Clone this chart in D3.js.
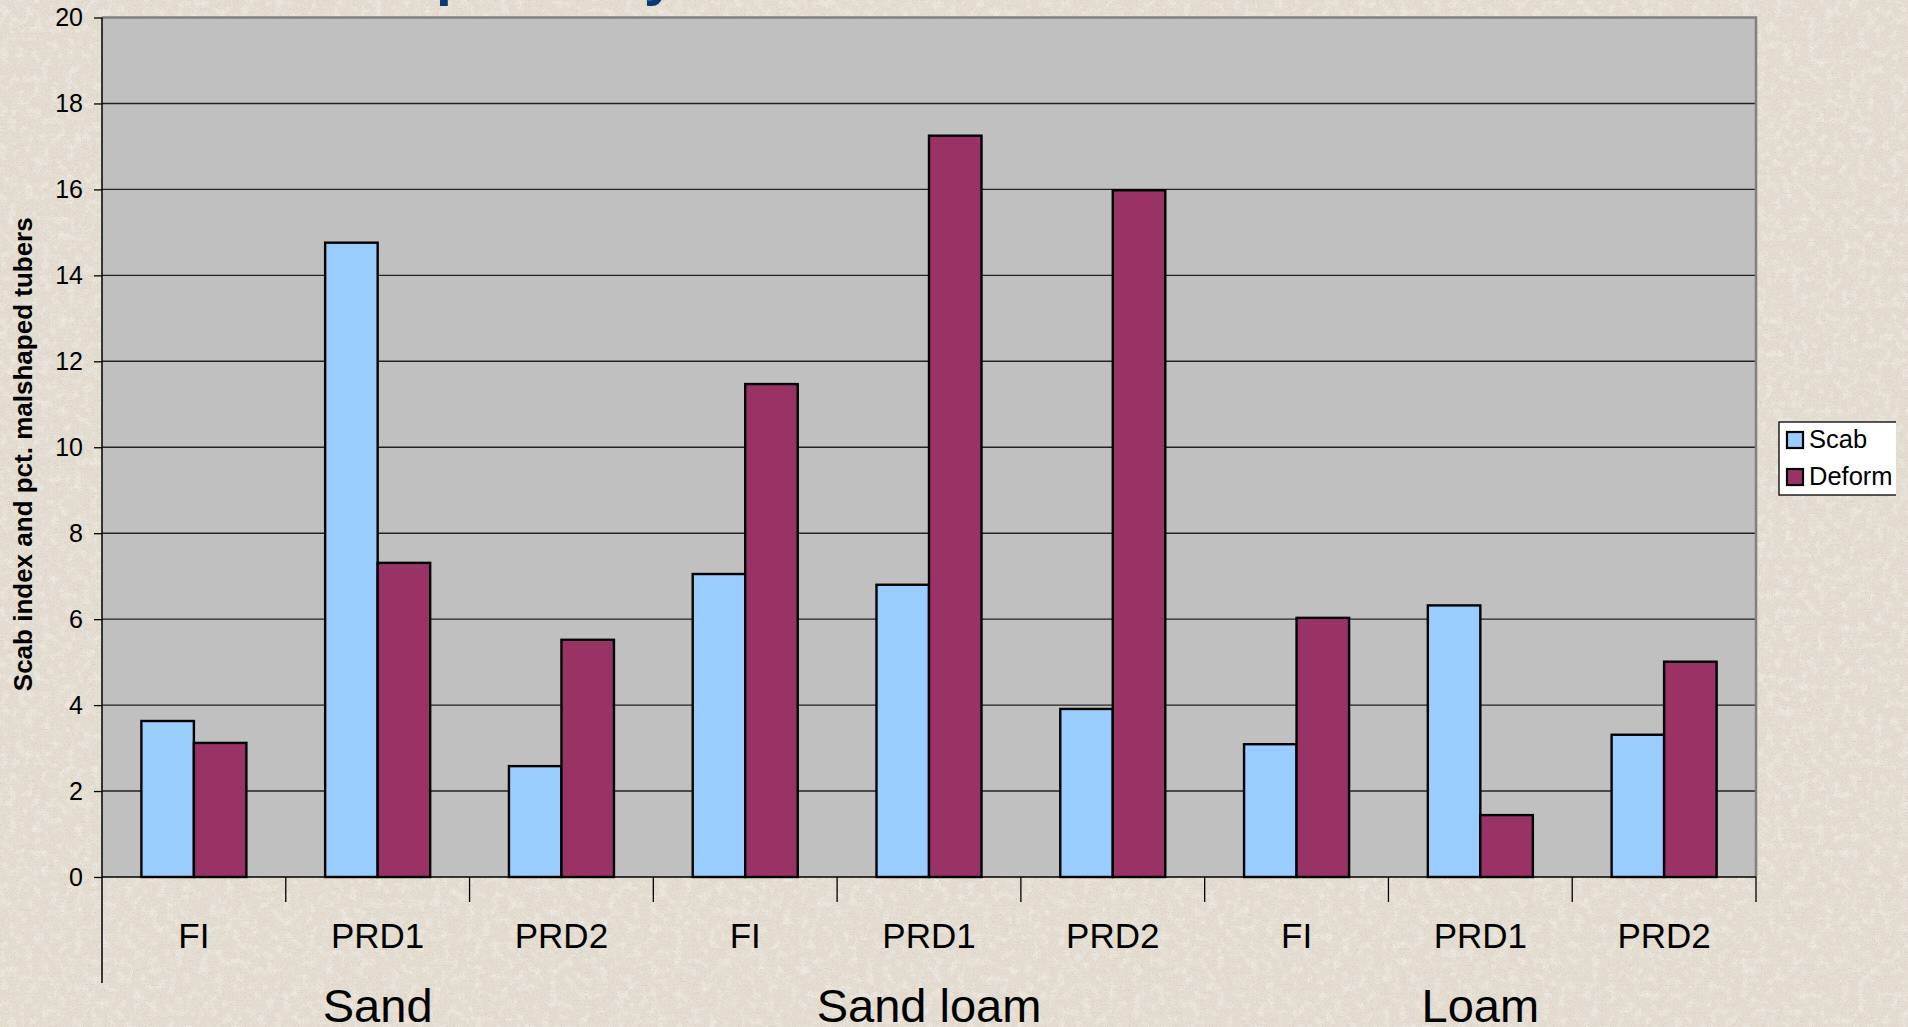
<!DOCTYPE html>
<html>
<head>
<meta charset="utf-8">
<script src="https://cdn.jsdelivr.net/npm/d3@7/dist/d3.min.js"></script>
<style>
  html, body { margin: 0; padding: 0; background: #e4ddd0; overflow: hidden; }
  svg { display: block; font-family: "Liberation Sans", Arial, sans-serif; }
</style>
</head>
<body>
<svg id="chart" width="1908" height="1027"></svg>
<script>
// Soil groups and irrigation treatments (two-level category axis)
const groups = ["Sand", "Sand loam", "Loam"];
const treatments = ["FI", "PRD1", "PRD2"];
const seriesNames = ["Scab", "Deform"];

// Values per category, in group order (Sand FI, Sand PRD1, ... Loam PRD2)
const scabValues   = [3.63, 14.76, 2.58, 7.05, 6.80, 3.91, 3.09, 6.32, 3.31];
const deformValues = [3.12, 7.31, 5.52, 11.47, 17.25, 15.98, 6.03, 1.44, 5.01];

const yTicks = [0, 2, 4, 6, 8, 10, 12, 14, 16, 18, 20];
const yTitle = "Scab index and pct. malshaped tubers";

const colors = { Scab: "#99ccff", Deform: "#993366" };

// Build the category table
const categories = [];
groups.forEach(g => treatments.forEach(t => categories.push({ group: g, treatment: t, key: g + "|" + t })));
const rows = categories.map((c, i) => ({ ...c, Scab: scabValues[i], Deform: deformValues[i] }));

const W = 1908, H = 1027;
const plot = { left: 102, right: 1756, top: 17.5, bottom: 877 };

const svg = d3.select("#chart");
const defs = svg.append("defs");

// Fine speckled stone-like slide background
const grain = defs.append("filter").attr("id", "grain").attr("x", 0).attr("y", 0).attr("width", 1).attr("height", 1);
grain.append("feTurbulence").attr("type", "fractalNoise").attr("baseFrequency", 0.75).attr("numOctaves", 3).attr("seed", 7).attr("result", "n1");
grain.append("feColorMatrix").attr("in", "n1").attr("type", "matrix")
  .attr("values", "0 0 0 0 0.64  0 0 0 0 0.60  0 0 0 0 0.54  -3.4 0 0 0 1.6").attr("result", "dark");
grain.append("feTurbulence").attr("type", "fractalNoise").attr("baseFrequency", 0.12).attr("numOctaves", 2).attr("seed", 3).attr("result", "n2");
grain.append("feColorMatrix").attr("in", "n2").attr("type", "matrix")
  .attr("values", "0 0 0 0 0.95  0 0 0 0 0.93  0 0 0 0 0.90  1.2 0 0 0 -0.55").attr("result", "light");
grain.append("feMerge").selectAll("feMergeNode").data(["SourceGraphic", "light", "dark"]).enter()
  .append("feMergeNode").attr("in", d => d);

svg.append("rect").attr("width", W).attr("height", H).attr("fill", "#e4ddd0").attr("filter", "url(#grain)");

// Fragments of the slide title above the chart
const title = svg.append("g").attr("fill", "#0b3a72").attr("font-weight", "bold").attr("font-size", 57);
title.append("text").attr("x", 436).attr("y", -6).text("p");
title.append("text").attr("x", 644).attr("y", -6).text("y");

// Chart object is cropped at its right edge
defs.append("clipPath").attr("id", "chartClip").append("rect").attr("x", 0).attr("y", 0).attr("width", 1896).attr("height", H);
const chart = svg.append("g").attr("clip-path", "url(#chartClip)");

// Scales
const x0 = d3.scaleBand().domain(categories.map(c => c.key)).range([plot.left, plot.right]).padding(0);
const x1 = d3.scaleBand().domain(seriesNames).range([0, x0.bandwidth()]).paddingInner(0).paddingOuter(0.75);
const y = d3.scaleLinear().domain([0, 20]).range([plot.bottom, plot.top]);

// Plot area
chart.append("rect")
  .attr("x", plot.left).attr("y", plot.top)
  .attr("width", plot.right - plot.left).attr("height", plot.bottom - plot.top)
  .attr("fill", "#c0c0c0");

// Gridlines
chart.append("g").selectAll("line").data(yTicks.filter(t => t > 0 && t < 20)).enter().append("line")
  .attr("x1", plot.left).attr("x2", plot.right)
  .attr("y1", d => y(d)).attr("y2", d => y(d))
  .attr("stroke", "#222").attr("stroke-width", 1.4);

// Plot border (top and right)
chart.append("path")
  .attr("d", `M${plot.left},${y(20)}H${plot.right}V${plot.bottom}`)
  .attr("fill", "none").attr("stroke", "#808080").attr("stroke-width", 2.5);

// Bars
const barGroups = chart.append("g").selectAll("g").data(rows).enter().append("g")
  .attr("transform", d => `translate(${x0(d.key)},0)`);
barGroups.selectAll("rect").data(d => seriesNames.map(s => ({ s, v: d[s] }))).enter().append("rect")
  .attr("x", d => x1(d.s)).attr("width", x1.bandwidth())
  .attr("y", d => y(d.v)).attr("height", d => y(0) - y(d.v))
  .attr("fill", d => colors[d.s])
  .attr("stroke", "#000").attr("stroke-width", 2.4);

// Y axis
const yAxis = chart.append("g").attr("transform", `translate(${plot.left},0)`)
  .call(d3.axisLeft(y).tickValues(yTicks).tickSize(8).tickPadding(11).tickFormat(d3.format("d")));
yAxis.select(".domain").remove();
yAxis.selectAll(".tick line").attr("stroke", "#000").attr("stroke-width", 1.3);
yAxis.selectAll(".tick text").attr("font-size", 25).attr("fill", "#000")
  .attr("font-family", "'Liberation Sans', Arial, sans-serif");

// Left axis line runs down past the category labels
chart.append("line")
  .attr("x1", plot.left).attr("x2", plot.left).attr("y1", plot.top).attr("y2", 983)
  .attr("stroke", "#000").attr("stroke-width", 1.5);

// Category axis line and tick marks between categories
chart.append("line")
  .attr("x1", plot.left).attr("x2", plot.right).attr("y1", y(0)).attr("y2", y(0))
  .attr("stroke", "#000").attr("stroke-width", 1.5);
const boundaries = categories.map(c => x0(c.key)).concat([x0(categories[categories.length - 1].key) + x0.bandwidth()]);
chart.append("g").selectAll("line").data(boundaries.slice(1)).enter().append("line")
  .attr("x1", d => d).attr("x2", d => d).attr("y1", y(0)).attr("y2", y(0) + 25)
  .attr("stroke", "#000").attr("stroke-width", 1.3);

// Treatment labels
chart.append("g").selectAll("text").data(categories).enter().append("text")
  .attr("x", d => x0(d.key) + x0.bandwidth() / 2).attr("y", 948)
  .attr("text-anchor", "middle").attr("font-size", 35).attr("fill", "#000")
  .text(d => d.treatment);

// Soil group labels
chart.append("g").selectAll("text").data(groups).enter().append("text")
  .attr("x", g => {
    const keys = categories.filter(c => c.group === g).map(c => c.key);
    return (x0(keys[0]) + x0(keys[keys.length - 1]) + x0.bandwidth()) / 2;
  })
  .attr("y", 1022)
  .attr("text-anchor", "middle").attr("font-size", 47).attr("fill", "#000")
  .text(g => g);

// Y axis title
chart.append("text")
  .attr("transform", `translate(32,${(plot.top + plot.bottom) / 2 + 7}) rotate(-90)`)
  .attr("text-anchor", "middle").attr("font-size", 26).attr("font-weight", "bold").attr("fill", "#000")
  .text(yTitle);

// Legend
const legend = chart.append("g").attr("transform", "translate(1779,422)");
legend.append("rect").attr("width", 160).attr("height", 73)
  .attr("fill", "#fff").attr("stroke", "#000").attr("stroke-width", 1.3);
const li = legend.selectAll("g").data(seriesNames).enter().append("g")
  .attr("transform", (d, i) => `translate(8,${10 + i * 37})`);
li.append("rect").attr("width", 16).attr("height", 16)
  .attr("fill", d => colors[d]).attr("stroke", "#000").attr("stroke-width", 2.2);
li.append("text").attr("x", 22).attr("y", 16).attr("font-size", 25.5).attr("fill", "#000").text(d => d);
</script>
</body>
</html>
